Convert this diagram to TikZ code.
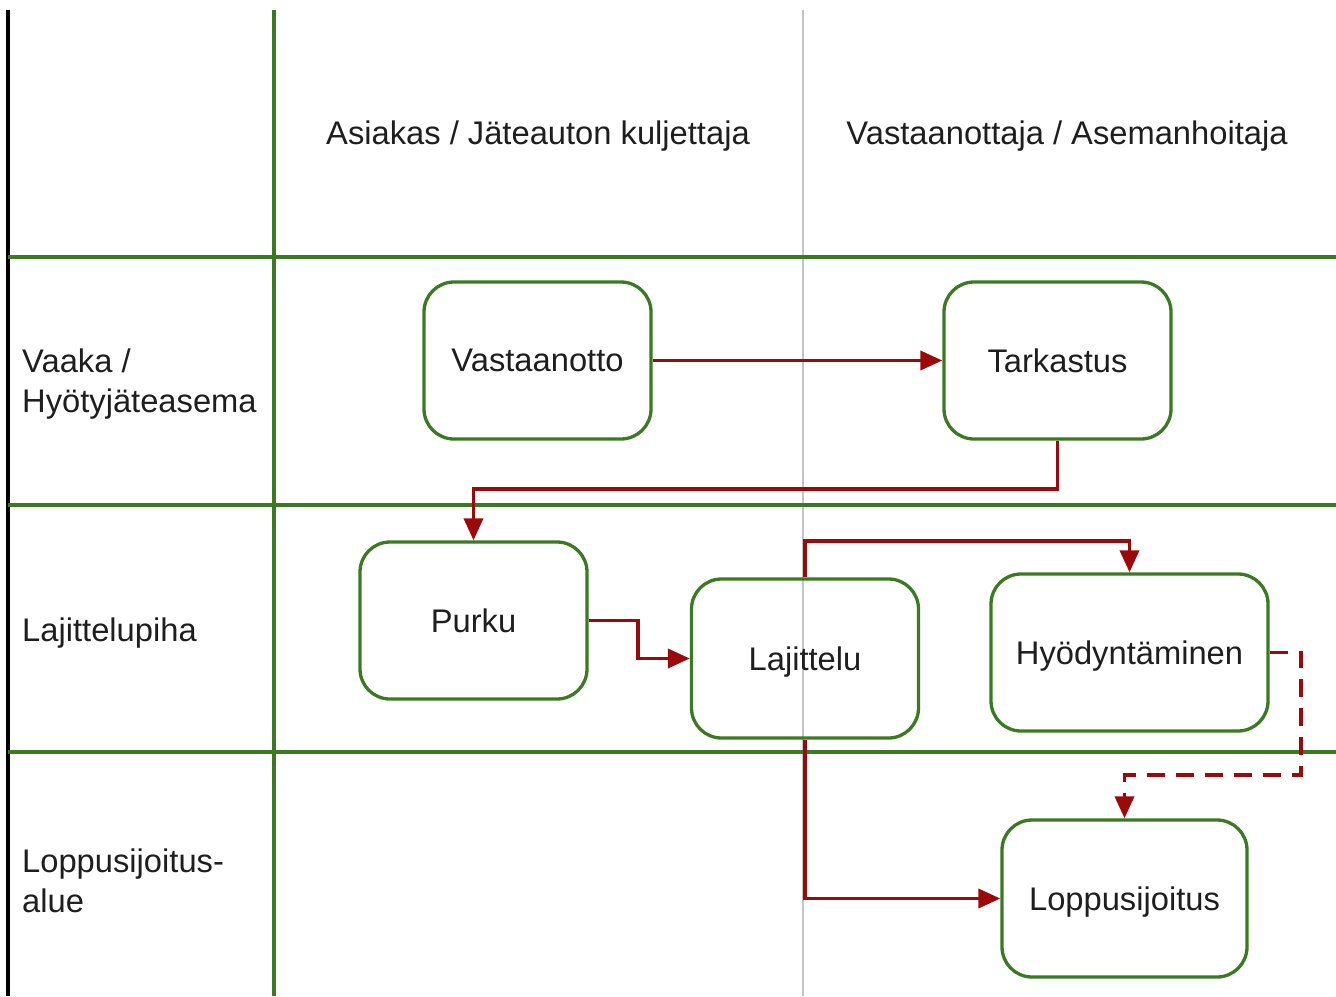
\documentclass[tikz,border=0pt]{standalone}
\usepackage{fontspec}
\setmainfont{Liberation Sans}
\usetikzlibrary{arrows.meta,calc}
\definecolor{lanegreen}{HTML}{3B7A22}
\definecolor{flowred}{HTML}{9B0A0A}
\definecolor{divgray}{HTML}{C4C4C4}
\definecolor{txt}{HTML}{1E1E1E}
\tikzset{
  lane/.style={draw=lanegreen, line width=3.3pt},
  task/.style={draw=lanegreen, line width=3.3pt, rounded corners=30pt,
    minimum width=227pt, minimum height=157pt, inner sep=0pt,
    text depth=0pt,
    text=txt, font=\fontsize{32.7pt}{40pt}\selectfont},
  lbl/.style={text=txt, font=\fontsize{32.7pt}{40pt}\selectfont, inner sep=0pt},
  flow/.style={draw=flowred, line width=3.8pt,
    -{Triangle[length=22pt,width=19pt]}},
  flowdash/.style={flow, dash pattern=on 18pt off 11pt},
}
\begin{document}
\begin{tikzpicture}[x=1pt,y=-1pt]
\useasboundingbox (0,0) rectangle (1336,996);
% grid of lanes
\draw[divgray, line width=1.6pt] (803,10) -- (803,996);
\draw[black, line width=3.3pt] (8,10) -- (8,996);
\draw[lane] (274,10) -- (274,996);
\draw[lane] (8,257) -- (1336,257);
\draw[lane] (8,505) -- (1336,505);
\draw[lane] (8,752) -- (1336,752);

% headers
\node[lbl] (h1) at (538,136) {Asiakas / Jäteauton kuljettaja};
\node[lbl] (h2) at (1067,136) {Vastaanottaja / Asemanhoitaja};
\node[lbl, anchor=west, align=left] (l1) at (22,384) {Vaaka /\\Hyötyjäteasema};
\node[lbl, anchor=west, align=left] (l2) at (22,633) {Lajittelupiha};
\node[lbl, anchor=west, align=left] (l3) at (22,881) {Loppusijoitus-\\alue};

% tasks
\node[task] (vas) at (537.5,360.5) {Vastaanotto};
\node[task] (tar) at (1057.5,360.5) {Tarkastus};
\node[task] (pur) at (473.5,620.5) {Purku};
\node[task, minimum height=159pt] (laj) at (805,658.5) {Lajittelu};
\node[task, minimum width=277pt] (hyo) at (1129.5,652.5) {Hyödyntäminen};
\node[task, minimum width=245pt] (lop) at (1124.5,898.5) {Loppusijoitus};

% flows
\draw[flow] (vas.east) -- (tar.west);
\draw[flow] (tar.south) -- (tar.south |- 0,489) -| (pur.north);
\draw[flow] (pur.east) -- (pur.east -| 638,0) |- (laj.west);
\draw[flow] (laj.north) -- (laj.north |- 0,541) -| (hyo.north);
\draw[flow] (laj.south) |- (lop.west);
\draw[flowdash] (hyo.east) -| (1301,775) -| (lop.north);
\end{tikzpicture}
\end{document}
